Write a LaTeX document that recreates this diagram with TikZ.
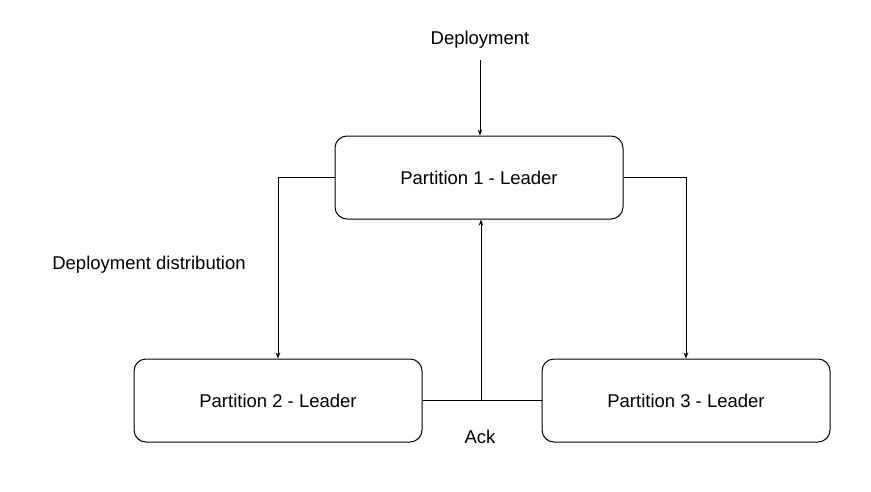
\documentclass[tikz,border=0pt]{standalone}
\usepackage{fontspec}
\setmainfont{Liberation Sans}
\usetikzlibrary{arrows.meta}
\begin{document}
\begin{tikzpicture}[x=1pt,y=-1pt,
  box/.style={draw,line width=1pt,rounded corners=12pt,minimum width=288pt,minimum height=83pt,inner sep=0pt,font=\fontsize{18.5}{22}\selectfont},
  lbl/.style={inner sep=0pt,font=\fontsize{18.5}{22}\selectfont},
  conn/.style={line width=1pt,-{Stealth[length=6pt,width=4.5pt]}},
  plain/.style={line width=1pt}]
\useasboundingbox (0,0) rectangle (871,491);
\node[box] (p1) at (479,177.5) {Partition 1 - Leader};
\node[box] (p2) at (278,400.5) {Partition 2 - Leader};
\node[box] (p3) at (686,400.5) {Partition 3 - Leader};
\node[lbl] (dep) at (480,40) {Deployment};
\node[lbl] (dd) at (149,265) {Deployment distribution};
\node[lbl] (ack) at (480,437) {Ack};
\coordinate (dtop) at (480,60);
\coordinate (mid) at (481,401);
\draw[conn] (dtop) -- (dtop |- p1.north);
\draw[conn] (p1.west) -| (p2.north);
\draw[conn] (p1.east) -| (p3.north);
\draw[plain] (p2.east) -- (p3.west);
\draw[conn] (mid) -- (mid |- p1.south);
\end{tikzpicture}
\end{document}
